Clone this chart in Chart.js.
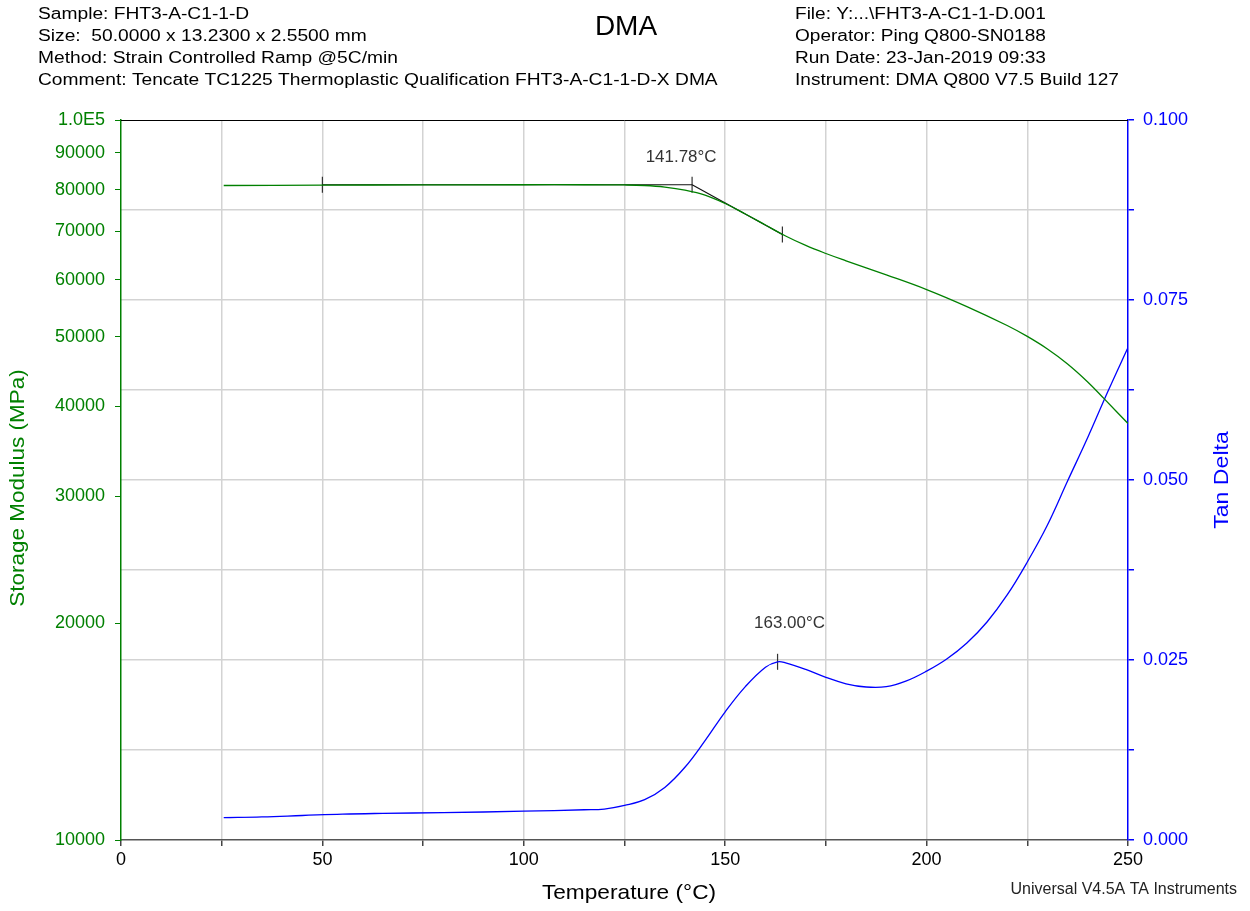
<!DOCTYPE html>
<html>
<head>
<meta charset="utf-8">
<title>DMA</title>
<script src="https://cdn.jsdelivr.net/npm/chart.js@4.4.1/dist/chart.umd.min.js"></script>
<style>
  body { margin: 0; background: #fff; }
  canvas { display: block; }
</style>
</head>
<body>
<canvas id="dmaChart" width="1250" height="911"></canvas>
<script>
// Storage modulus (MPa) vs temperature
const modTemps = [25.5, 50, 75, 100, 115, 125, 130, 135, 140, 145, 150, 155, 160, 165, 170, 175, 180, 190, 200, 210, 220, 225, 230, 235, 240, 244, 250];
const modValues = [81100, 81200, 81250, 81300, 81300, 81240, 81100, 80700, 79930, 78660, 76560, 74030, 71470, 69000, 66950, 65250, 63750, 60950, 58150, 55070, 51830, 50050, 48080, 45830, 43270, 41050, 37880];

// Tan delta vs temperature
const tdTemps = [25.5, 35, 45, 55, 65, 80, 100, 115, 120, 125, 130, 135, 140, 145, 150, 155, 160, 163, 165, 170, 175, 180, 185, 190, 195, 200, 205, 210, 215, 220, 225, 230, 235, 240, 245, 250];
const tdValues = [0.0031, 0.0032, 0.0034, 0.0036, 0.0037, 0.0038, 0.0040, 0.0042, 0.0043, 0.0048, 0.0056, 0.0073, 0.0101, 0.0138, 0.0178, 0.0213, 0.0240, 0.02475, 0.0246, 0.0237, 0.0226, 0.0217, 0.02125, 0.0213, 0.0221, 0.02345, 0.02514, 0.02736, 0.03028, 0.03403, 0.03861, 0.04375, 0.04986, 0.0559, 0.06229, 0.0684];

// onset analysis (tangent lines) and peak
const onsetTemps = [50, 141.78];
const onsetValues = [81300, 81300];
const slopeTemps = [141.78, 164.2];
const slopeValues = [81300, 69340];
const peakTemp = 163.0;
const peakValue = 0.02475;

// ticks
const xTicks = [0, 25, 50, 75, 100, 125, 150, 175, 200, 225, 250];
const modTicks = [10000, 20000, 30000, 40000, 50000, 60000, 70000, 80000, 90000, 100000];
const tdTicks = [0, 0.0125, 0.025, 0.0375, 0.05, 0.0625, 0.075, 0.0875, 0.1];

const FONT = "'Liberation Sans', Arial, sans-serif";
const GREEN = '#008000';
const BLUE = '#0000ff';
const GRID = '#d3d3d3';

const pts = (xs, ys) => xs.map((x, i) => ({ x: x, y: ys[i] }));

// text drawn a little wider than Arial, like the instrument printout
function wideText(c, text, x, y, stretch, angle) {
    c.save();
    c.translate(x, y);
    if (angle) c.rotate(angle);
    c.scale(stretch, 1);
    c.fillText(text, 0, 0);
    c.restore();
}

// header, footer, axis titles and analysis labels
const extras = {
    id: 'extras',
    afterDraw(chart) {
        const c = chart.ctx;
        const a = chart.chartArea;
        const sx = chart.scales.x, sl = chart.scales.yL, sr = chart.scales.yR;
        c.save();
        c.textBaseline = 'middle';

        // top border
        c.strokeStyle = '#000';
        c.lineWidth = 1;
        c.beginPath();
        c.moveTo(a.left, a.top + 0.5);
        c.lineTo(a.right, a.top + 0.5);
        c.stroke();

        c.fillStyle = '#000';
        c.font = '16px ' + FONT;
        c.textAlign = 'left';
        const left = ['Sample: FHT3-A-C1-1-D', 'Size:  50.0000 x 13.2300 x 2.5500 mm',
            'Method: Strain Controlled Ramp @5C/min',
            'Comment: Tencate TC1225 Thermoplastic Qualification FHT3-A-C1-1-D-X DMA'];
        const right = ['File: Y:...\\FHT3-A-C1-1-D.001', 'Operator: Ping Q800-SN0188',
            'Run Date: 23-Jan-2019 09:33', 'Instrument: DMA Q800 V7.5 Build 127'];
        left.forEach((t, i) => wideText(c, t, 38, 15 + i * 22, 1.2));
        right.forEach((t, i) => wideText(c, t, 795, 15 + i * 22, 1.19));

        c.font = '28px ' + FONT;
        c.textAlign = 'center';
        c.fillText('DMA', 626, 27);

        c.font = '16px ' + FONT;
        c.textAlign = 'right';
        c.fillStyle = '#222';
        c.fillText('Universal V4.5A TA Instruments', 1237, 890);

        // axis titles
        c.font = '21px ' + FONT;
        c.textAlign = 'center';
        c.fillStyle = '#000';
        wideText(c, 'Temperature (\u00B0C)', 629, 893, 1.08);
        c.fillStyle = GREEN;
        wideText(c, 'Storage Modulus (MPa)', 18, 488, 1.07, -Math.PI / 2);
        c.fillStyle = BLUE;
        wideText(c, 'Tan Delta', 1222, 480, 1.1, -Math.PI / 2);

        // analysis labels
        c.font = '16px ' + FONT;
        c.fillStyle = '#333';
        wideText(c, onsetTemps[1].toFixed(2) + '\u00B0C', sx.getPixelForValue(onsetTemps[1]) - 11, sl.getPixelForValue(onsetValues[1]) - 27, 1.06);
        wideText(c, peakTemp.toFixed(2) + '\u00B0C', sx.getPixelForValue(peakTemp) + 12, sr.getPixelForValue(peakValue) - 38, 1.06);
        c.restore();
    }
};

const markerStyle = {
    showLine: false,
    pointStyle: 'line',
    rotation: 90,
    pointRadius: 8,
    pointBorderColor: '#333',
    pointBorderWidth: 1.2,
    pointBackgroundColor: '#333'
};

new Chart(document.getElementById('dmaChart'), {
    type: 'scatter',
    data: {
        datasets: [
            {
                label: 'Storage Modulus',
                data: pts(modTemps, modValues),
                yAxisID: 'yL',
                showLine: true,
                borderColor: GREEN,
                borderWidth: 1.3,
                pointRadius: 0,
                tension: 0.4
            },
            {
                label: 'Tan Delta',
                data: pts(tdTemps, tdValues),
                yAxisID: 'yR',
                showLine: true,
                borderColor: BLUE,
                borderWidth: 1.3,
                pointRadius: 0,
                tension: 0.4
            },
            {
                label: 'Onset baseline',
                data: pts(onsetTemps, onsetValues),
                yAxisID: 'yL',
                showLine: true,
                borderColor: '#111',
                borderWidth: 1.2,
                pointRadius: 0
            },
            {
                label: 'Onset slope',
                data: pts(slopeTemps, slopeValues),
                yAxisID: 'yL',
                showLine: true,
                borderColor: '#111',
                borderWidth: 1.2,
                pointRadius: 0
            },
            Object.assign({ label: 'Onset marks', yAxisID: 'yL',
                data: pts([onsetTemps[0], onsetTemps[1], slopeTemps[1]], [onsetValues[0], onsetValues[1], slopeValues[1]]) }, markerStyle),
            Object.assign({ label: 'Peak mark', yAxisID: 'yR',
                data: pts([peakTemp], [peakValue]) }, markerStyle)
        ]
    },
    options: {
        responsive: false,
        animation: false,
        devicePixelRatio: 1,
        layout: { padding: { top: 120, left: 0, right: 0, bottom: 0 } },
        plugins: {
            legend: { display: false },
            tooltip: { enabled: false }
        },
        scales: {
            x: {
                type: 'linear',
                min: 0,
                max: 250,
                afterBuildTicks: s => { s.ticks = xTicks.map(v => ({ value: v })); },
                afterFit: s => { s.height = 71; },
                border: { color: '#555', width: 1.5 },
                grid: {
                    color: ctx => (ctx.tick && (ctx.tick.value === 0 || ctx.tick.value === 250)) ? 'rgba(0,0,0,0)' : GRID,
                    lineWidth: 1.5,
                    tickColor: '#444',
                    tickLength: 6
                },
                ticks: {
                    color: '#000',
                    font: { family: FONT, size: 18 },
                    padding: 3,
                    maxRotation: 0,
                    callback: v => (v % 50 === 0 ? String(v) : '')
                }
            },
            yL: {
                type: 'logarithmic',
                position: 'left',
                min: 10000,
                max: 100000,
                afterBuildTicks: s => { s.ticks = modTicks.map(v => ({ value: v })); },
                afterFit: s => { s.width = 121; },
                border: { color: GREEN, width: 1.5 },
                grid: { drawOnChartArea: false, tickColor: GREEN, tickLength: 6 },
                ticks: {
                    color: GREEN,
                    font: { family: FONT, size: 18 },
                    padding: 10,
                    callback: v => (v === 100000 ? '1.0E5' : String(v))
                }
            },
            yR: {
                type: 'linear',
                position: 'right',
                min: 0,
                max: 0.1,
                afterBuildTicks: s => { s.ticks = tdTicks.map(v => ({ value: v })); },
                afterFit: s => { s.width = 122; },
                border: { color: BLUE, width: 1.5 },
                grid: {
                    color: ctx => (ctx.tick && (ctx.tick.value === 0 || ctx.tick.value === 0.1)) ? 'rgba(0,0,0,0)' : GRID,
                    lineWidth: 1.5,
                    tickColor: BLUE,
                    tickLength: 6
                },
                ticks: {
                    color: BLUE,
                    font: { family: FONT, size: 18 },
                    padding: 9,
                    callback: (v, i) => (i % 2 === 0 ? v.toFixed(3) : '')
                }
            }
        }
    },
    plugins: [extras]
});
</script>
</body>
</html>
